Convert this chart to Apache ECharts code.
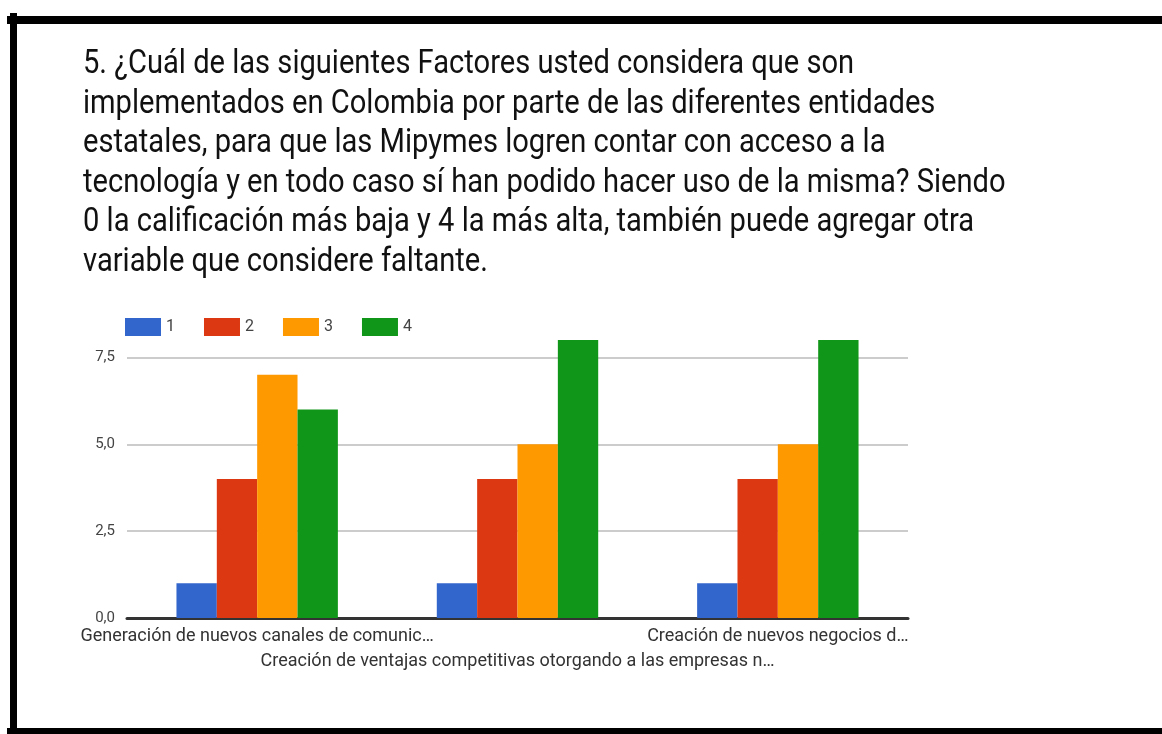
<!DOCTYPE html>
<html lang="es">
<head>
    <meta charset="UTF-8">
    <title>Factores Mipymes</title>
    <script src="https://cdn.jsdelivr.net/npm/echarts@6.0.0/dist/echarts.min.js"></script>
    <style>
        html, body { margin: 0; padding: 0; background: #fff; }
    </style>
</head>
<body>
    <div id="main" style="width: 1162px; height: 734px;"></div>
    <script>
        // datos
        const categories = [
            'Generación de nuevos canales de comunic…',
            'Creación de ventajas competitivas otorgando a las empresas n…',
            'Creación de nuevos negocios d…'
        ];
        const seriesNames = ['1', '2', '3', '4'];
        const values1 = [1, 1, 1];
        const values2 = [4, 4, 4];
        const values3 = [7, 5, 5];
        const values4 = [6, 8, 8];
        const yTicks = [0, 2.5, 5, 7.5];

        const titleLines = [
            '5. ¿Cuál de las siguientes Factores usted considera que son',
            'implementados en Colombia por parte de las diferentes entidades',
            'estatales, para que las Mipymes logren contar con acceso a la',
            'tecnología y en todo caso sí han podido hacer uso de la misma? Siendo',
            '0 la calificación más baja y 4 la más alta, también puede agregar otra',
            'variable que considere faltante.'
        ];

        const colors = ['#3366cc', '#dc3912', '#ff9900', '#109618'];
        const allValues = [values1, values2, values3, values4];

        const myChart = echarts.init(document.getElementById('main'));

        const option = {
            backgroundColor: '#ffffff',
            color: colors,
            animation: false,
            legend: {
                left: 125,
                top: 318,
                padding: 0,
                itemWidth: 36,
                itemHeight: 18,
                itemGap: 29,
                icon: 'rect',
                textStyle: { fontFamily: 'Roboto', fontSize: 16, color: '#444' },
                data: seriesNames
            },
            grid: {
                left: 127,
                right: 254,
                top: 340,
                bottom: 116
            },
            xAxis: {
                type: 'category',
                data: categories,
                axisTick: { show: false },
                axisLine: { lineStyle: { color: '#333', width: 3 } },
                axisLabel: {
                    interval: 0,
                    margin: 6,
                    fontFamily: 'Roboto',
                    fontSize: 18,
                    color: '#333',
                    lineHeight: 25,
                    formatter: (v, i) => (i % 2 ? '\n' + v : v)
                }
            },
            yAxis: {
                type: 'value',
                min: 0,
                max: 8,
                interval: 2.5,
                axisLine: { show: false },
                axisTick: { show: false },
                splitLine: { showMaxLine: false, lineStyle: { color: '#cccccc', width: 2 } },
                axisLabel: {
                    margin: 12,
                    fontFamily: 'Roboto',
                    fontSize: 15,
                    color: '#444',
                    showMaxLabel: false,
                    formatter: v => (yTicks.includes(v) ? v.toFixed(1).replace('.', ',') : '')
                }
            },
            series: seriesNames.map((name, k) => ({
                name: name,
                type: 'bar',
                data: allValues[k],
                barGap: '0%',
                barCategoryGap: '38%'
            })),
            graphic: [
                // titulo (texto un poco estrecho como en la captura)
                {
                    type: 'text',
                    x: 83,
                    y: 45,
                    scaleX: 0.856,
                    style: {
                        text: titleLines.join('\n'),
                        font: '34px Roboto',
                        lineHeight: 39.5,
                        fill: '#111',
                        verticalAlign: 'top'
                    }
                },
                // marco negro de la captura
                { type: 'rect', shape: { x: 7, y: 16, width: 1155, height: 8 }, style: { fill: '#000' } },
                { type: 'rect', shape: { x: 10, y: 13, width: 7, height: 721 }, style: { fill: '#000' } },
                { type: 'rect', shape: { x: 7, y: 728, width: 1155, height: 6 }, style: { fill: '#000' } }
            ]
        };

        myChart.setOption(option);
    </script>
</body>
</html>
